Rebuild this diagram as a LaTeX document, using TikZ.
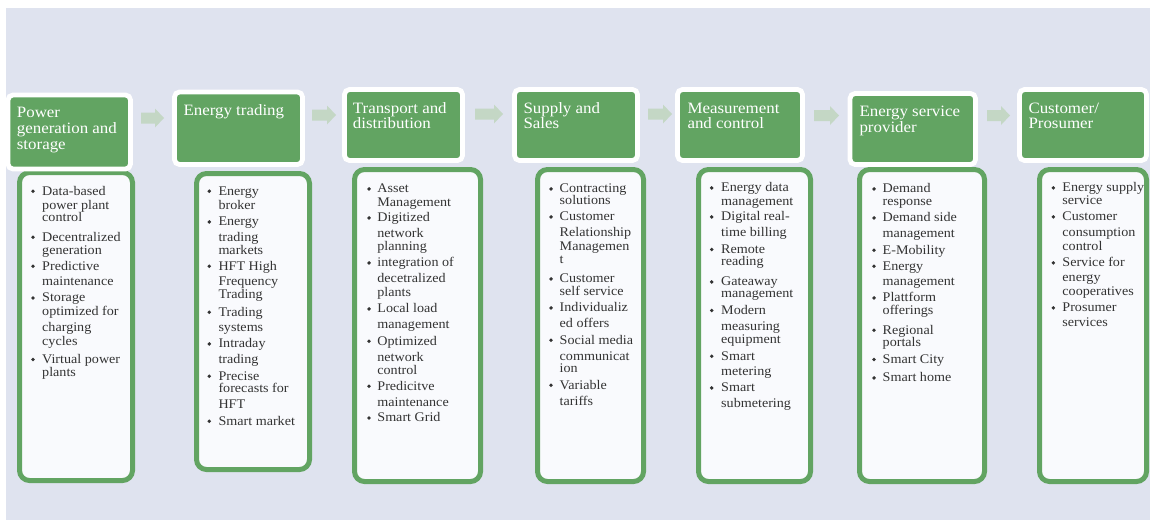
\documentclass[tikz,border=0pt]{standalone}
\usepackage{fontspec}
\setmainfont[FakeStretch=1.07]{Liberation Serif}
\definecolor{bgc}{HTML}{DFE3EF}
\definecolor{grn}{HTML}{62A462}
\definecolor{arrc}{HTML}{C4D7C5}
\definecolor{bodyc}{HTML}{F9FAFD}
\definecolor{txtc}{HTML}{333333}
\tikzset{
  hdr/.style={draw=white, fill=grn, line width=4.8pt, rounded corners=5pt, inner sep=0pt},
  bodybox/.style={draw=grn, fill=bodyc, line width=5pt, rounded corners=10pt, inner sep=0pt},
  htxt/.style={anchor=base west, inner sep=0pt, text=white, font=\fontsize{15.8}{16}\selectfont},
  itxt/.style={anchor=base west, inner sep=0pt, text=txtc, font=\fontsize{13.2}{13.5}\selectfont},
  blockarrow/.style={fill=arrc}
}
% a framed box given by its corner coordinates (px, y downward)
\newcommand\boxat[6]{\node[#1, minimum width={#4-#2}, minimum height={#5-#3}] (#6) at ({(#2+#4)/2},{(#3+#5)/2}) {};}
% bullet list: name, bullet x, text x, list of baseline/text/bullet-flag
\newcommand\itemlist[4]{%
  \foreach \y/\t/\b [count=\i] in {#4} {
    \node[itxt] (#1-\i) at (#3,\y) {\t};
    \ifnum\b=1 \fill[txtc] (#2,{\y-3.8}) circle[radius=1.9pt]; \fi
  }}
% header lines: name, text x, list of baseline/text
\newcommand\hdrlines[3]{%
  \foreach \y/\t [count=\i] in {#3} {
    \node[htxt] (#1-\i) at (#2,\y) {\t};
  }}
% block arrow between two stages: x start, x end, centre y
\newcommand\stagearrow[3]{%
  \fill[blockarrow] (#1,{#3-5.5}) -- ({#2-9},{#3-5.5}) -- ({#2-9},{#3-9.5}) -- (#2,#3)
    -- ({#2-9},{#3+9.5}) -- ({#2-9},{#3+5.5}) -- (#1,{#3+5.5}) -- cycle;}
\begin{document}
\begin{tikzpicture}[x=1pt,y=-1pt]
\useasboundingbox (0,0) rectangle (1150,522);
\fill[bgc] (6,8) rectangle (1150,520);

% detail boxes
\boxat{bodybox}{19.5}{172.5}{132.5}{480.5}{b1}
\boxat{bodybox}{196.5}{173.5}{309.5}{469.5}{b2}
\boxat{bodybox}{354.5}{169.5}{480.5}{481.5}{b3}
\boxat{bodybox}{537.5}{169.5}{643.5}{481.5}{b4}
\boxat{bodybox}{698.5}{169.5}{810.5}{481.5}{b5}
\boxat{bodybox}{859.5}{169.5}{984.5}{481.5}{b6}
\boxat{bodybox}{1039.5}{169.5}{1146.5}{481.5}{b7}

% stage headers
\boxat{hdr}{8}{95}{130.5}{169}{h1}
\boxat{hdr}{174.5}{92}{302.5}{164.5}{h2}
\boxat{hdr}{344.5}{89.5}{462.5}{160.5}{h3}
\boxat{hdr}{514.5}{89.5}{637.5}{160.5}{h4}
\boxat{hdr}{677.5}{89.5}{802.5}{160.5}{h5}
\boxat{hdr}{850}{93.5}{975.5}{164.5}{h6}
\boxat{hdr}{1019.5}{89.5}{1146.5}{160.5}{h7}

% arrows between stages
\stagearrow{141}{164}{118}
\stagearrow{312}{336}{115}
\stagearrow{475}{503}{114}
\stagearrow{648}{672}{114}
\stagearrow{814}{839}{115.5}
\stagearrow{987}{1010}{115.5}

% header titles
\hdrlines{t1}{16.7}{117.3/Power, 133.3/generation and, 149.3/storage}
\hdrlines{t2}{183.3}{115/Energy trading}
\hdrlines{t3}{352.7}{113.3/Transport and, 128.7/distribution}
\hdrlines{t4}{523.3}{113.3/Supply and, 128.7/Sales}
\hdrlines{t5}{687.3}{113.3/Measurement, 128.7/and control}
\hdrlines{t6}{859.3}{116.7/Energy service, 132.3/provider}
\hdrlines{t7}{1028.3}{113.3/{Customer/}, 128.7/Prosumer}

% bullet lists
\itemlist{c1}{33}{42}{195/Data-based/1, 209.3/power plant/0, 221.7/control/0, 241/Decentralized/1, 254/generation/0, 270/Predictive/1, 285.7/maintenance/0, 301.7/Storage/1, 315/optimized for/0, 331/charging/0, 345/cycles/0, 363.3/Virtual power/1, 376.7/plants/0}
\itemlist{c2}{209.3}{218.3}{195/Energy/1, 209.3/broker/0, 225.7/Energy/1, 241.7/trading/0, 254/markets/0, 270/HFT High/1, 285.7/Frequency/0, 298.3/Trading/0, 316/Trading/1, 331.7/systems/0, 347.7/Intraday/1, 363.3/trading/0, 380/Precise/1, 392.3/forecasts for/0, 408.3/HFT/0, 425/Smart market/1}
\itemlist{c3}{369}{377.2}{192.7/Asset/1, 206/Management/0, 221.7/Digitized/1, 237.7/network/0, 250.7/planning/0, 266.7/integration of/1, 282.7/decetralized/0, 296.7/plants/0, 312.7/Local load/1, 328.3/management/0, 345/Optimized/1, 361/network/0, 374/control/0, 390/Predicitve/1, 406/maintenance/0, 421.7/Smart Grid/1}
\itemlist{c4}{551}{559.5}{192.7/Contracting/1, 204.3/solutions/0, 220.7/Customer/1, 236.7/Relationship/0, 250.7/Managemen/0, 263.3/t/0, 282.7/Customer/1, 295/self service/0, 311.7/Individualiz/1, 327.7/ed offers/0, 344/Social media/1, 360/communicat/0, 372.7/ion/0, 389/Variable/1, 405/tariffs/0}
\itemlist{c5}{711.7}{721}{191.7/Energy data/1, 205/management/0, 220.7/Digital real-/1, 236.7/time billing/0, 253.3/Remote/1, 265.7/reading/0, 285.7/Gateaway/1, 297.3/management/0, 314.3/Modern/1, 330/measuring/0, 343.3/equipment/0, 360/Smart/1, 375/metering/0, 391.7/Smart/1, 407.3/submetering/0}
\itemlist{c6}{874}{882.5}{192.7/Demand/1, 205/response/0, 221.7/Demand side/1, 237.3/management/0, 254/E-Mobility/1, 270/Energy/1, 285.7/management/0, 301.7/Plattform/1, 314/offerings/0, 334/Regional/1, 346.7/portals/0, 363.3/Smart City/1, 381.7/Smart home/1}
\itemlist{c7}{1053.3}{1062.2}{191.7/Energy supply/1, 204.3/service/0, 220.7/Customer/1, 236.7/consumption/0, 250/control/0, 266.7/Service for/1, 281.7/energy/0, 295/cooperatives/0, 311.7/Prosumer/1, 326.7/services/0}
\end{tikzpicture}
\end{document}
